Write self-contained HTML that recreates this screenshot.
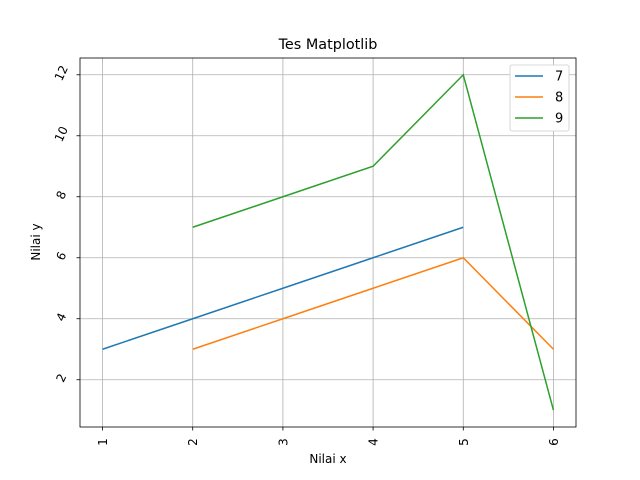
<!DOCTYPE html>
<html><head><meta charset="utf-8"><style>body{margin:0;background:#fff}svg{display:block}text{font-family:"DejaVu Sans","Liberation Sans",sans-serif;fill:#000}</style></head>
<body>
<svg id="c" width="640" height="480"></svg>
<script>
const xCats=[1,2,3,4,5,6];
const s7x=[1,2,3,4,5], s7y=[3,4,5,6,7];
const s8x=[2,3,4,5,6], s8y=[3,4,5,6,3];
const s9x=[2,3,4,5,6], s9y=[7,8,9,12,1];
const yTicks=[2,4,6,8,10,12];
const seriesNames=["7","8","9"];
const colors=["#1f77b4","#ff7f0e","#2ca02c"];
const L=80,R=576,T=58,B=427;
const X=v=>L+(v-0.75)/(6.25-0.75)*(R-L);
const Y=v=>B-(v-0.45)/(12.55-0.45)*(B-T);
const svg=document.getElementById('c');
const NS='http://www.w3.org/2000/svg';
function mk(t,a,p){const e=document.createElementNS(NS,t);for(const k in a)e.setAttribute(k,a[k]);(p||svg).appendChild(e);return e;}
let e;
e=mk('rect',{x:L,y:T,width:R-L,height:B-T,fill:'#fff'});


xCats.forEach(v=>{const x=X(v);
 e=mk('line',{x1:x,x2:x,y1:T,y2:B,stroke:'#b0b0b0','stroke-width':0.8});
 
 
 mk('line',{x1:x,x2:x,y1:B,y2:B+3.5,stroke:'#000','stroke-width':0.8});
 e=mk('text',{x:0,y:0,'font-size':12,'text-anchor':'middle',transform:`translate(${x+4.5},${B+15}) rotate(-90)`});
 e.textContent=v;
 
 
});
yTicks.forEach(v=>{const y=Y(v);
 e=mk('line',{x1:L,x2:R,y1:y,y2:y,stroke:'#b0b0b0','stroke-width':0.8});
 
 
 mk('line',{x1:L-3.5,x2:L,y1:y,y2:y,stroke:'#000','stroke-width':0.8});
 e=mk('text',{x:0,y:0,'font-size':12,'text-anchor':'middle',transform:`translate(${L-15},${y}) rotate(-65)`});
 e.textContent=v;
 
 
});
[[s7x,s7y],[s8x,s8y],[s9x,s9y]].forEach((s,i)=>{
 e=mk('polyline',{points:s[0].map((x,j)=>X(x)+','+Y(s[1][j])).join(' '),fill:'none',stroke:colors[i],'stroke-width':1.5});
 
 
});
e=mk('rect',{x:L,y:T,width:R-L,height:B-T,fill:'none',stroke:'#000','stroke-width':0.8});


e=mk('text',{x:328,y:49,'font-size':14.4,'text-anchor':'middle'});e.textContent='Tes Matplotlib';


e=mk('text',{x:328,y:463,'font-size':12,'text-anchor':'middle'});e.textContent='Nilai x';


e=mk('text',{x:0,y:0,'font-size':12,'text-anchor':'middle',transform:'translate(40,242) rotate(-90)'});e.textContent='Nilai y';


const lg=mk('g',{});


mk('rect',{x:510,y:65,width:59,height:66,rx:2,fill:'#fff',stroke:'#ccc','stroke-width':0.8},lg);
seriesNames.forEach((n,i)=>{const y=76+i*21;
 e=mk('line',{x1:515,x2:543,y1:y,y2:y,stroke:colors[i],'stroke-width':1.5},lg);
 
 
 e=mk('text',{x:555,y:y+4.5,'font-size':13},lg);e.textContent=n;
 
 
});
</script>
</body></html>
